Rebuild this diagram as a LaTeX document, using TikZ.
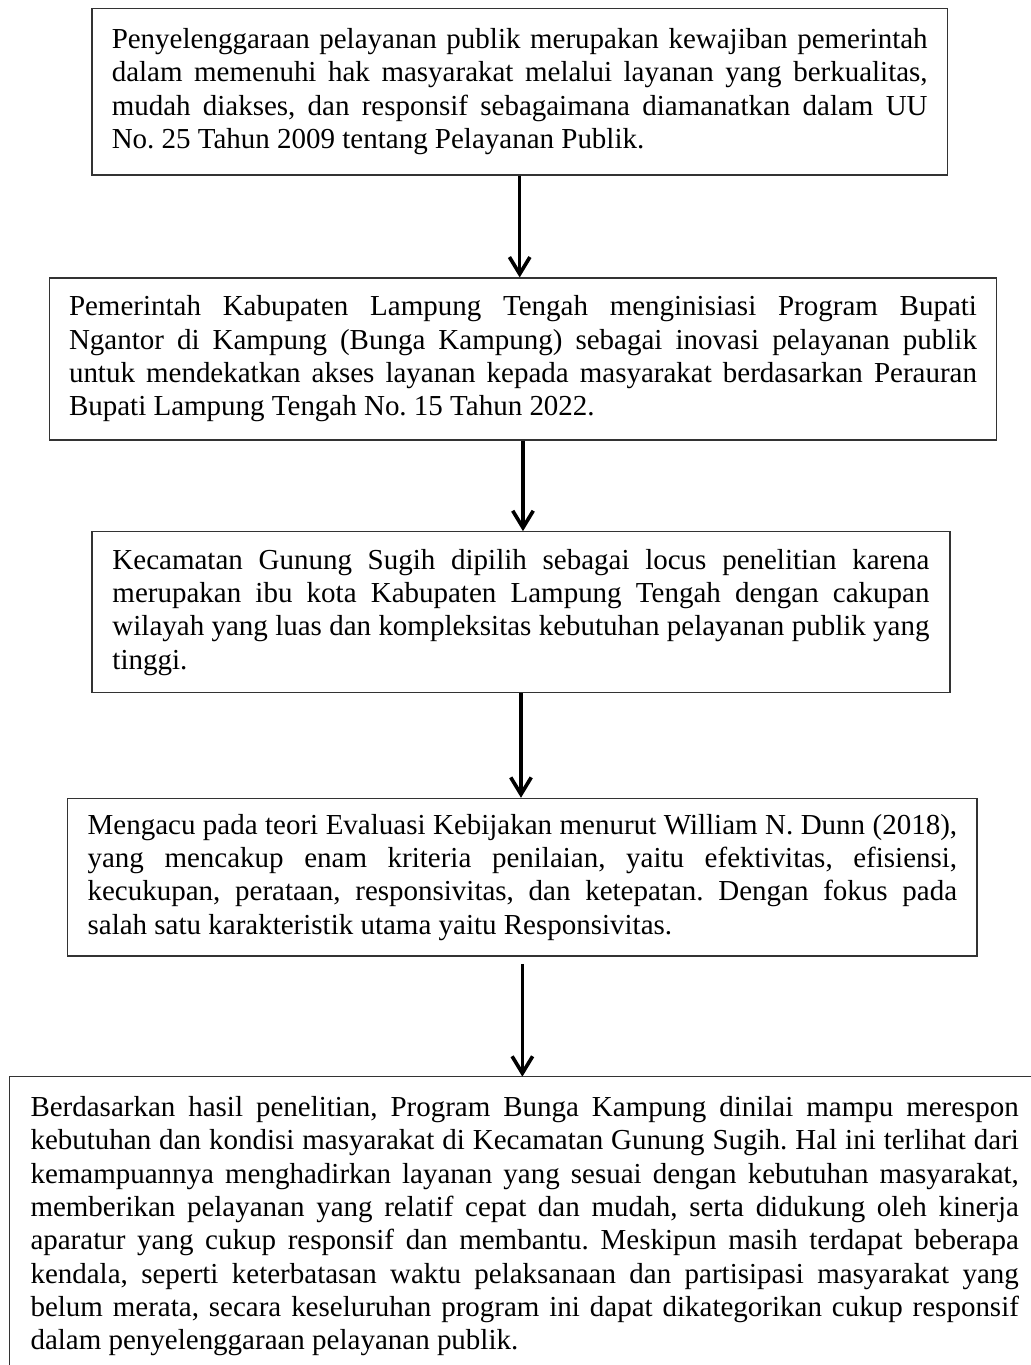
\documentclass[tikz,border=0pt]{standalone}
\usepackage{fontspec}
\setmainfont{Liberation Serif}[Ligatures = CommonOff]
\usetikzlibrary{arrows.meta}
\tolerance = 10000
\hyphenpenalty = 10000
\frenchspacing

\begin{document}
\begin{tikzpicture}[
		kotak/.style = {draw = black!80, line width = 0.45pt, align = justify, inner sep = 0pt, font = \fontsize{12}{13.8}\selectfont},
		panah/.style = {line width = 1.5pt, -{Straight Barb[length = 7pt, width = 8.5pt]}}
	]
	\useasboundingbox (0, 0) rectangle (15, -19.86);
	\clip (0, 0) rectangle (15, -19.86);
	\node[kotak, text width = 11.87cm, minimum width = 12.445cm, minimum height = 2.425cm] (b1) at (7.561, -1.333) {Penyelenggaraan pelayanan publik merupakan kewajiban pemerintah \linebreak dalam memenuhi hak masyarakat melalui layanan yang berkualitas, \linebreak mudah diakses, dan responsif sebagaimana diamanatkan dalam UU \linebreak No. 25 Tahun 2009 tentang Pelayanan Publik.};
	\node[kotak, text width = 13.21cm, minimum width = 13.784cm, minimum height = 2.357cm] (b2) at (7.609, -5.223) {Pemerintah Kabupaten Lampung Tengah menginisiasi Program Bupati \linebreak Ngantor di Kampung (Bunga Kampung) sebagai inovasi pelayanan publik \linebreak untuk mendekatkan akses layanan kepada masyarakat berdasarkan Perauran \linebreak Bupati Lampung Tengah No. 15 Tahun 2022.};
	\node[kotak, text width = 11.887cm, minimum width = 12.483cm, minimum height = 2.342cm] (b3) at (7.58, -8.907) {Kecamatan Gunung Sugih dipilih sebagai locus penelitian karena \linebreak merupakan ibu kota Kabupaten Lampung Tengah dengan cakupan \linebreak wilayah yang luas dan kompleksitas kebutuhan pelayanan publik yang \linebreak tinggi.};
	\node[kotak, text width = 12.65cm, minimum width = 13.228cm, minimum height = 2.294cm] (b4) at (7.6, -12.762) {Mengacu pada teori Evaluasi Kebijakan menurut William N. Dunn (2018), \linebreak yang mencakup enam kriteria penilaian, yaitu efektivitas, efisiensi, \linebreak kecukupan, perataan, responsivitas, dan ketepatan. Dengan fokus pada \linebreak salah satu karakteristik utama yaitu Responsivitas.};
	\node[kotak, draw = none, anchor = north west, inner xsep = 0.292cm, inner ysep = 0.28cm, text width = 14.38cm] (b5) at (0.144, -15.665) {Berdasarkan hasil penelitian, Program Bunga Kampung dinilai mampu merespon \linebreak kebutuhan dan kondisi masyarakat di Kecamatan Gunung Sugih. Hal ini terlihat dari \linebreak kemampuannya menghadirkan layanan yang sesuai dengan kebutuhan masyarakat, \linebreak memberikan pelayanan yang relatif cepat dan mudah, serta didukung oleh kinerja \linebreak aparatur yang cukup responsif dan membantu. Meskipun masih terdapat beberapa \linebreak kendala, seperti keterbatasan waktu pelaksanaan dan partisipasi masyarakat yang \linebreak belum merata, secara keseluruhan program ini dapat dikategorikan cukup responsif \linebreak dalam penyelenggaraan pelayanan publik.};
	% kotak terakhir terpotong di tepi kanan dan bawah
	\draw[black!80, line width = 0.45pt] (b5.north west) rectangle ++(15.5, -4.6);
	\draw[panah] (b1.south) -- (b1.south |- b2.north);
	\draw[panah] (b2.south) -- (b2.south |- b3.north);
	\draw[panah] (b3.south) -- (b3.south |- b4.north);
	\coordinate (c4) at ([yshift = -0.106cm] b4.south);
	\draw[panah] (c4) -- (c4 |- b5.north);
\end{tikzpicture}
\end{document}
